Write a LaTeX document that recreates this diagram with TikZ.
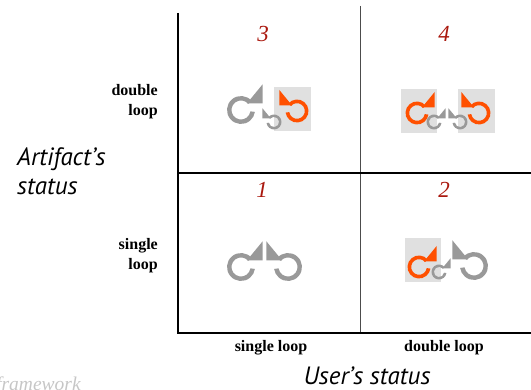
\documentclass[tikz,border=0pt]{standalone}
\usepackage{fontspec}
\setmainfont{Liberation Serif}
\newfontfamily\gillfont{PT Sans}
\definecolor{numred}{RGB}{170,25,15}
\definecolor{loopgray}{RGB}{153,153,153}
\definecolor{looporange}{RGB}{255,80,0}
\definecolor{loopbg}{RGB}{224,224,224}
\tikzset{
	loopicon/.pic={
		\fill (40:1) arc (40:352:1) -- (352:0.68) arc (352:40:0.68) -- cycle;
		\fill (0.43,0.48) -- (1.54,0.48) -- (1.54,1.83) -- cycle;
	},
	cellnum/.style={font=\fontsize{23}{23}\selectfont\itshape,text=numred,inner sep=0pt},
	levellabel/.style={font=\fontsize{16}{20}\selectfont\bfseries,align=right,inner sep=0pt},
	axislabel/.style={font=\gillfont\fontsize{25}{29}\selectfont\itshape,align=left,inner sep=0pt}
}

\begin{document}
\begin{tikzpicture}[x=1pt,y=1pt]
	\useasboundingbox (0,0) rectangle (531,390);

	\coordinate (top) at (178,377);
	\coordinate (origin) at (178,57);
	\coordinate (right) at (531,57);
	\coordinate (vtop) at (360,384);
	\coordinate (vbot) at (360,57);
	\coordinate (hleft) at (178,217);
	\coordinate (hright) at (531,217);

	\draw[gray!60!black,line width=1pt] (vtop) -- (vbot);
	\draw[line width=1.2pt] (hleft) -- (hright);
	\draw[line width=2.3pt] (top) -- (origin) -- (right);

	\node[cellnum] (n3) at (263,356) {3};
	\node[cellnum] (n4) at (444,356) {4};
	\node[cellnum] (n1) at (262,200) {1};
	\node[cellnum] (n2) at (444,200) {2};

	\node[levellabel,anchor=east] (dbl) at (158,288) {double\\loop};
	\node[levellabel,anchor=east] (sgl) at (158,134) {single\\loop};
	\node[levellabel] (usgl) at (271,42) {single loop};
	\node[levellabel] (udbl) at (444,42) {double loop};

	\node[axislabel,anchor=west] (artifact) at (17,219) {Artifact’s\\status};
	\node[axislabel,anchor=base] (user) at (367,5) {User’s status};
	\node[font=\fontsize{19.5}{19.5}\selectfont\itshape,text=gray!45,anchor=base west,inner sep=0pt] (fw) at (-4,-1) {framework};

	\fill[loopbg] (274,259) rectangle (311,303);
	\fill[loopbg] (401,257) rectangle (437,301);
	\fill[loopbg] (458,257) rectangle (495,301);
	\fill[loopbg] (405,108) rectangle (441,152);

	\pic[looporange,scale=11.5,xscale=-1] (o3) at (297,279) {loopicon};
	\pic[looporange,scale=11.5] (o4a) at (417,277) {loopicon};
	\pic[looporange,scale=11.5,xscale=-1] (o4b) at (479,277) {loopicon};
	\pic[looporange,scale=11.5] (o2) at (419,123) {loopicon};

	\pic[loopgray,scale=14] (g3) at (241,280) {loopicon};
	\pic[loopgray,scale=7.5,xscale=-1] (s3) at (274,268) {loopicon};
	\pic[loopgray,scale=7.5] (s4a) at (434,268) {loopicon};
	\pic[loopgray,scale=7.5,xscale=-1] (s4b) at (460,268) {loopicon};
	\pic[loopgray,scale=14] (g1a) at (241,123) {loopicon};
	\pic[loopgray,scale=14,xscale=-1] (g1b) at (288,123) {loopicon};
	\pic[loopgray,scale=7.5] (s2) at (439,118) {loopicon};
	\pic[loopgray,scale=14,xscale=-1] (g2) at (474,124) {loopicon};
\end{tikzpicture}
\end{document}
